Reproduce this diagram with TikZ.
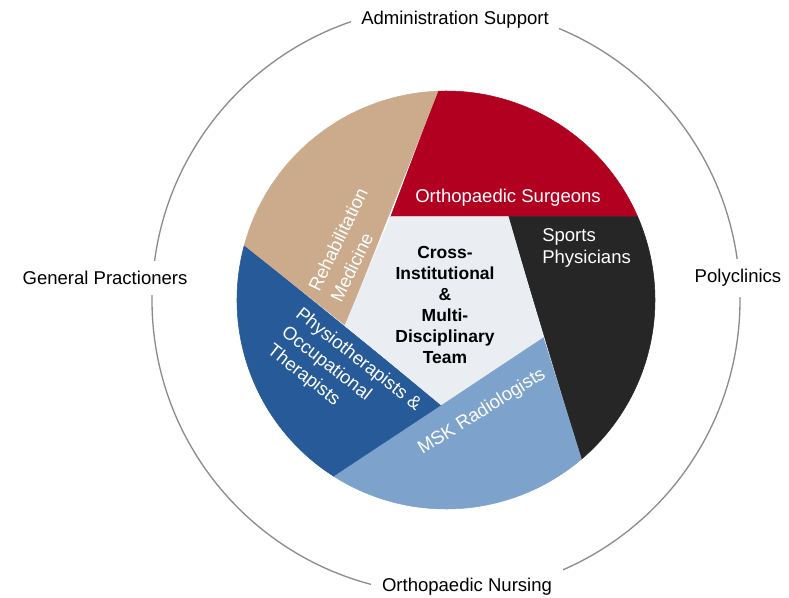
\documentclass[tikz,border=0pt]{standalone}
\usepackage{fontspec}
\setmainfont{Liberation Sans}

\definecolor{surgred}{RGB}{177,0,32}
\definecolor{sportblack}{RGB}{38,38,38}
\definecolor{mskblue}{RGB}{125,163,204}
\definecolor{physioblue}{RGB}{38,90,152}
\definecolor{rehabbeige}{RGB}{203,171,140}
\definecolor{teamgrey}{RGB}{234,238,242}
\definecolor{ringgrey}{RGB}{140,140,140}

\begin{document}
\begin{tikzpicture}[x=0.75pt, y=0.75pt]
    \useasboundingbox (-446,-297) rectangle (343,300);
    \def\R{294}
    \def\r{209}
    % pentagono
    \coordinate (a1) at (123.5:100);
    \coordinate (a2) at (53.2:104);
    \coordinate (a3) at (-20.9:104);
    \coordinate (a4) at (-92.7:105);
    \coordinate (a5) at (194:104);
    % bordo
    \coordinate (b1) at (23.5:\r);
    \coordinate (b2) at (-49.6:\r);
    \coordinate (b3) at (-122.6:\r);
    \coordinate (b4) at (164.8:\r);
    \coordinate (b5) at (92.2:\r);

    % anello
    \draw[ringgrey, line width=1pt] (0,0) circle (\R);

    % spicchi
    \filldraw[surgred, line width=0.4pt] (a1) -- (b1) arc (23.5:92.2:\r) -- cycle;
    \filldraw[sportblack, line width=0.4pt] (a2) -- (b2) arc (-49.6:23.5:\r) -- cycle;
    \filldraw[mskblue, line width=0.4pt] (a3) -- (b3) arc (-122.6:-49.6:\r) -- cycle;
    \filldraw[physioblue, line width=0.4pt] (a4) -- (b4) arc (164.8:237.4:\r) -- cycle;
    \filldraw[rehabbeige, line width=0.4pt] (a5) -- (b5) arc (92.2:164.8:\r) -- cycle;
    \filldraw[teamgrey, line width=0.4pt] (a1) -- (a2) -- (a3) -- (a4) -- (a5) -- cycle;

    \tikzset{lab/.style = {text=white, align=left, inner sep=0pt, font=\fontsize{13.9}{16.5}\selectfont}}
    \tikzset{ext/.style = {fill=white, inner sep=8pt, font=\fontsize{13.9}{16.5}\selectfont}}

    \node [lab] (nsurgeons) at (62,102) {Orthopaedic Surgeons};
    \node [lab, anchor=west] (nsports) at (96,52) {Sports\\Physicians};
    \node [lab, rotate=32] (nmsk) at (36,-112) {MSK Radiologists};
    \node [lab, rotate=-38, font=\fontsize{13.9}{17.3}\selectfont] (nphysio) at (-102,-78)
        {Physiotherapists \&\\Occupational\\Therapists};
    \node [lab, rotate=64, font=\fontsize{13.9}{18.5}\selectfont] (nrehab) at (-97,55) {Rehabilitation\\Medicine};
    \node [align=center, inner sep=0pt, font=\bfseries\fontsize{13.1}{15.75}\selectfont] (nteam) at (-1,-5)
        {Cross-\\Institutional\\\&\\Multi-\\Disciplinary\\Team};

    \node [ext] (nadmin) at (9,280) {Administration Support};
    \node [ext] (nnursing) at (21,-287) {Orthopaedic Nursing};
    \node [ext] (ngp) at (-341,22) {General Practioners};
    \node [ext] (npoly) at (292,22) {Polyclinics};

  \end{tikzpicture}
\end{document}
